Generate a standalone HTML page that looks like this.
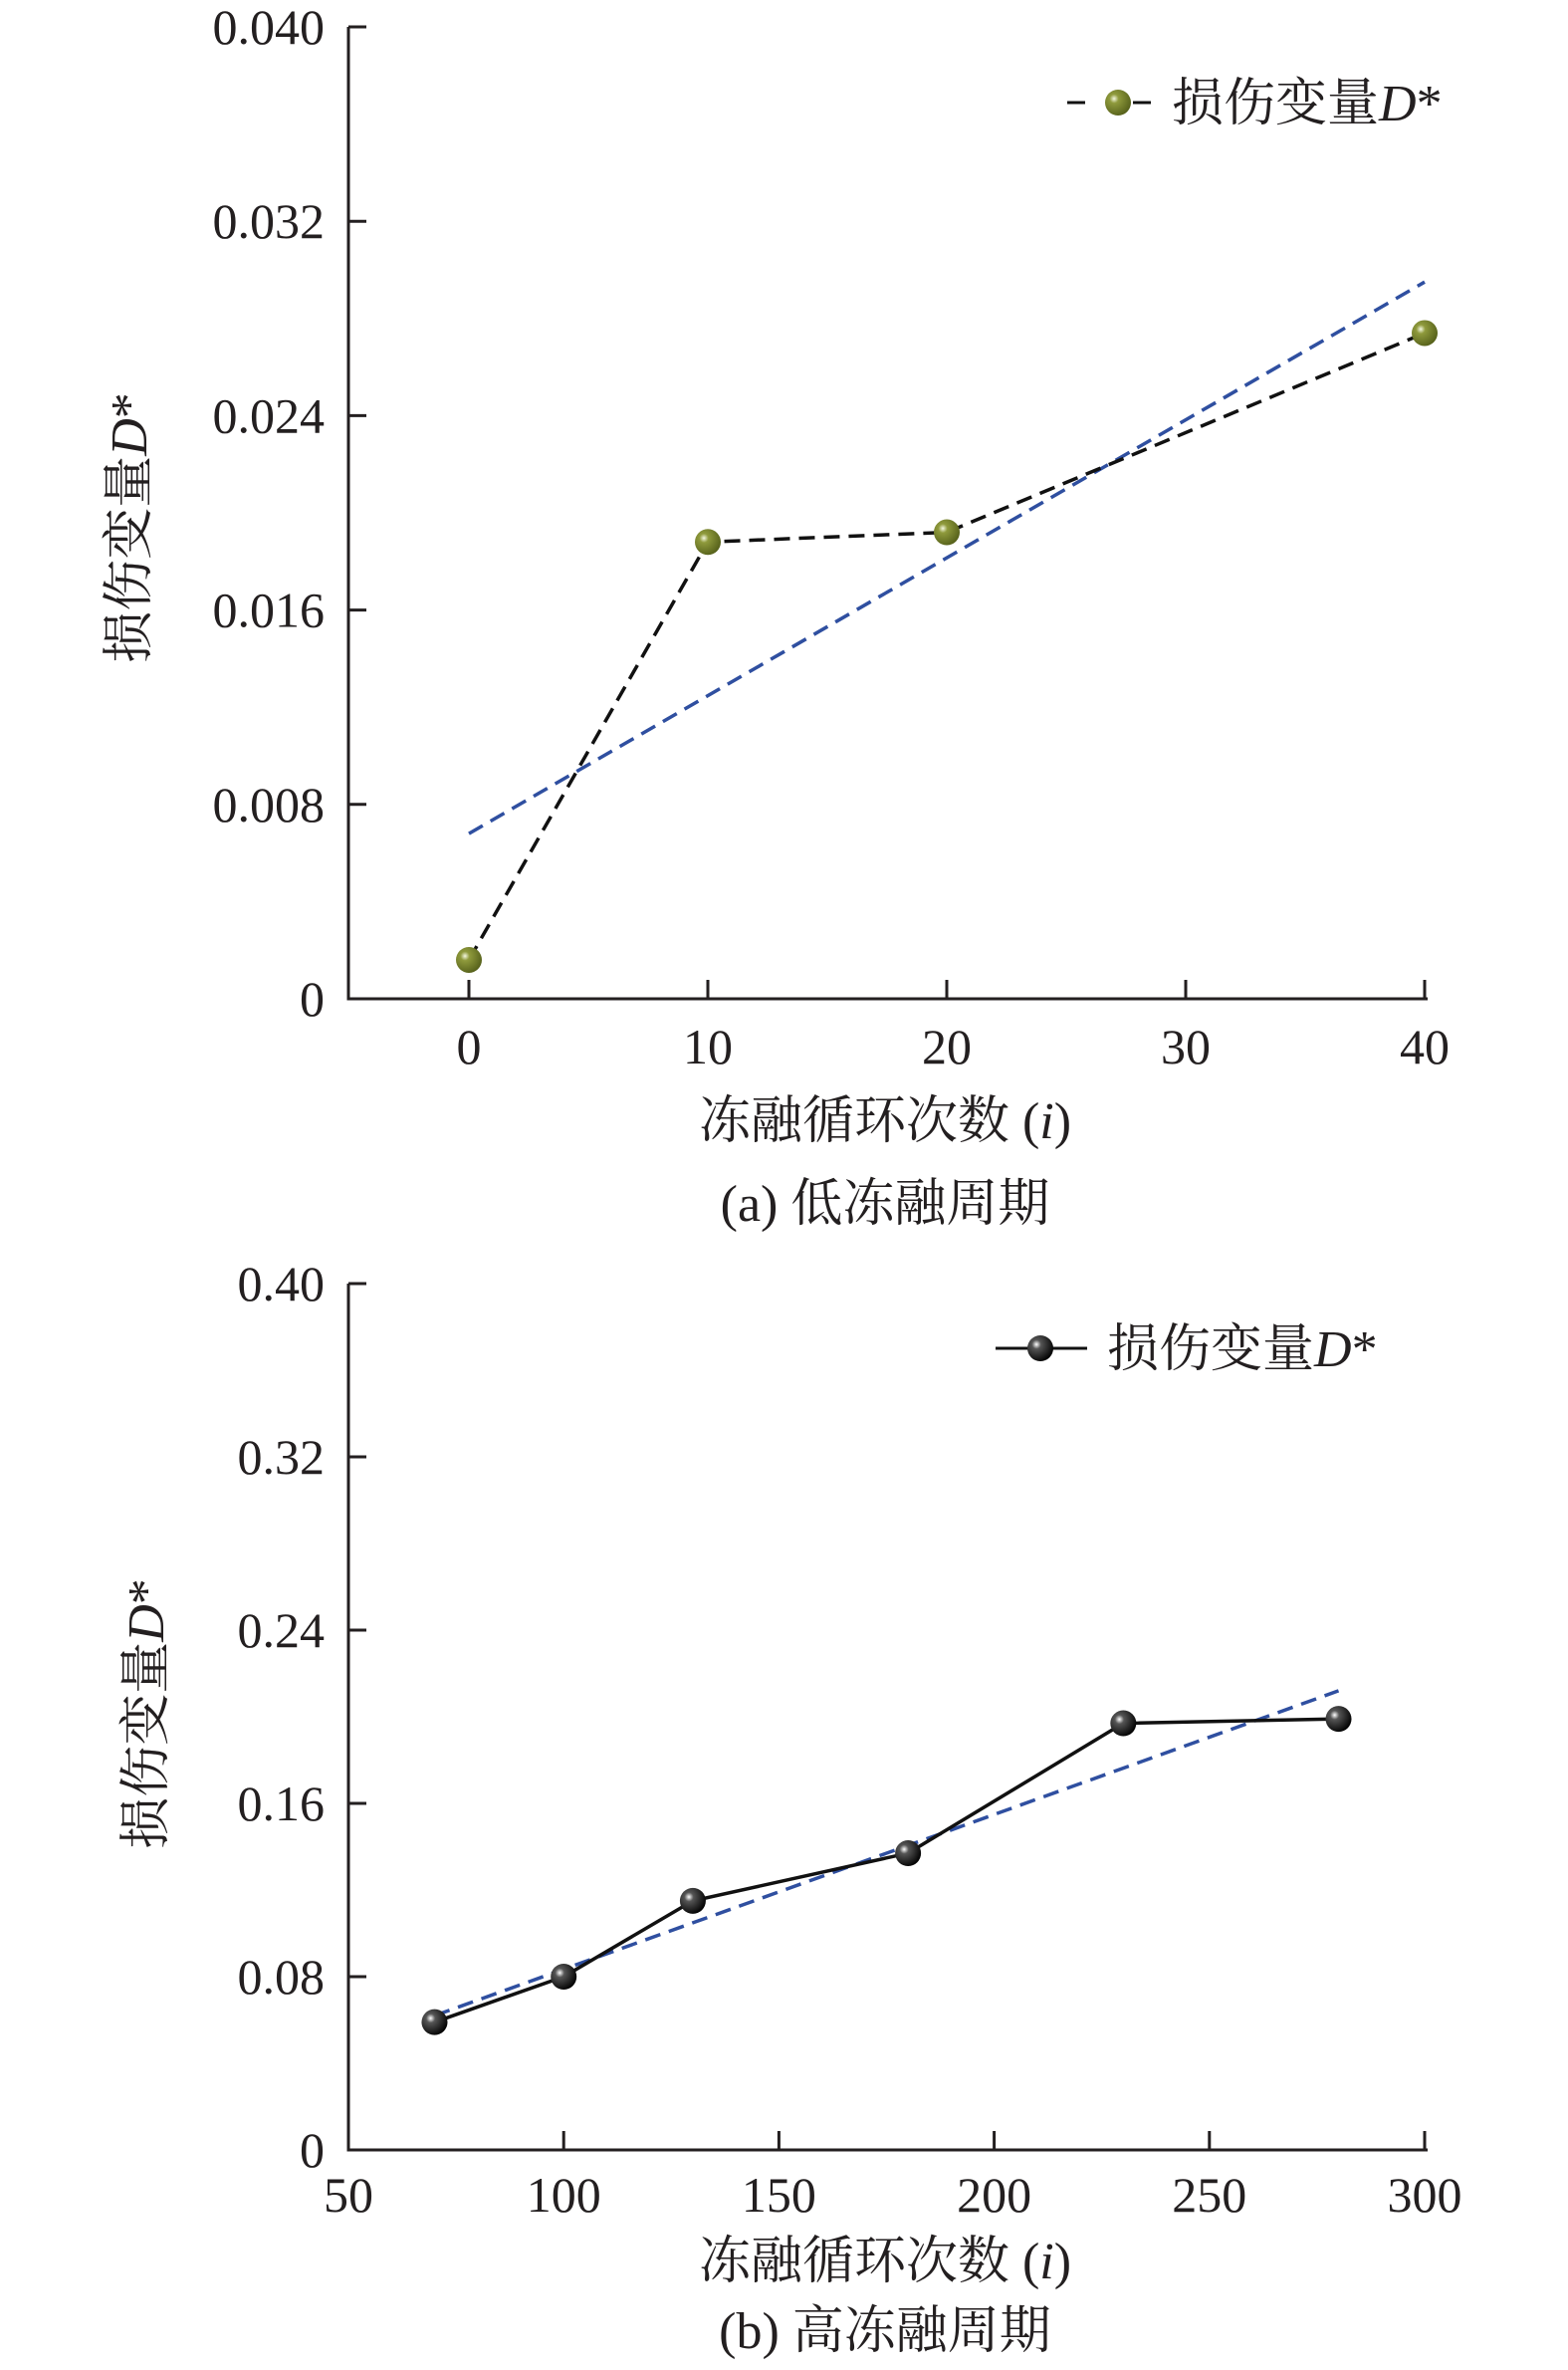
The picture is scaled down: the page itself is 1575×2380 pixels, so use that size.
<!DOCTYPE html>
<html><head><meta charset="utf-8"><style>
body{margin:0;background:#fff}
svg{display:block}
text{font-family:"Liberation Serif","Noto Serif CJK SC",serif;fill:#231f20}
</style></head><body>
<svg id="s" width="1575" height="2380" xmlns="http://www.w3.org/2000/svg">
<defs>
<radialGradient id="gg" cx="0.35" cy="0.35" r="0.7"><stop offset="0" stop-color="#f4f8e0"/><stop offset="0.25" stop-color="#8f9a3c"/><stop offset="1" stop-color="#55601a"/></radialGradient>
<radialGradient id="gb" cx="0.35" cy="0.35" r="0.7"><stop offset="0" stop-color="#ffffff"/><stop offset="0.25" stop-color="#555"/><stop offset="1" stop-color="#000"/></radialGradient>
</defs>
</svg>
<script>
const aCats=[0,10,20,40];
const aVals=[0.0016,0.0188,0.0192,0.0274];
const aFitX=[0,40];
const aFitY=[0.0068,0.0295];
const aXTicks=[0,10,20,30,40];
const aYTicks=[0,0.008,0.016,0.024,0.032,0.040];
const aYLabels=["0","0.008","0.016","0.024","0.032","0.040"];
const bCats=[70,100,130,180,230,280];
const bVals=[0.059,0.080,0.115,0.137,0.197,0.199];
const bFitX=[70,280];
const bFitY=[0.062,0.212];
const bXTicks=[50,100,150,200,250,300];
const bYTicks=[0,0.08,0.16,0.24,0.32,0.40];
const bYLabels=["0","0.08","0.16","0.24","0.32","0.40"];
const NS="http://www.w3.org/2000/svg";
const svg=document.getElementById('s');
function mk(t,a,p){const e=document.createElementNS(NS,t);for(const k in a)e.setAttribute(k,a[k]);(p||svg).appendChild(e);return e;}
function chart(o){
 const g=mk('g',{});
 
 
 const X=v=>o.x0+(v-o.xmin)/(o.xmax-o.xmin)*(o.x1-o.x0);
 const Y=v=>o.yb-(v-o.ymin)/(o.ymax-o.ymin)*(o.yb-o.yt);
 const ax=mk('path',{d:`M${o.ax},${o.yt}V${o.yb}H${o.xend}`,stroke:'#231f20','stroke-width':3,fill:'none'},g);
 
 
 o.yt_.forEach((v,i)=>{
  mk('line',{x1:o.ax,x2:o.ax+18,y1:Y(v),y2:Y(v),stroke:'#231f20','stroke-width':3},g);
  const t=mk('text',{x:o.ax-24,y:Y(v)+17,'text-anchor':'end','font-size':50},g);t.textContent=o.yl[i];
  
  
 });
 o.xt.forEach(v=>{
  mk('line',{x1:X(v),x2:X(v),y1:o.yb,y2:o.yb-19,stroke:'#231f20','stroke-width':3},g);
  const t=mk('text',{x:X(v),y:o.xly,'text-anchor':'middle','font-size':50},g);t.textContent=v;
  
  
 });
 const fit=mk('line',{x1:X(o.fx[0]),y1:Y(o.fy[0]),x2:X(o.fx[1]),y2:Y(o.fy[1]),stroke:'#2f4fa0','stroke-width':3.5,'stroke-dasharray':'16,9'},g);
 
 
 const ln=mk('polyline',{points:o.cats.map((c,i)=>X(c)+','+Y(o.vals[i])).join(' '),fill:'none',stroke:'#111','stroke-width':3.5,'stroke-dasharray':o.dash||'none'},g);
 
 
 o.cats.forEach((c,i)=>{
  const m=mk('circle',{cx:X(c),cy:Y(o.vals[i]),r:13,fill:o.grad},g);
  
  
 });
}
chart({name:'chart-a',x0:471,x1:1431,xmin:0,xmax:40,yb:1003,yt:27,ymin:0,ymax:0.04,ax:350,xend:1434,
 yt_:aYTicks,yl:aYLabels,xt:aXTicks,xly:1068,fx:aFitX,fy:aFitY,cats:aCats,vals:aVals,dash:'16,9',grad:'url(#gg)'});
chart({name:'chart-b',x0:350,x1:1431,xmin:50,xmax:300,yb:2159,yt:1289,ymin:0,ymax:0.4,ax:350,xend:1434,
 yt_:bYTicks,yl:bYLabels,xt:bXTicks,xly:2221,fx:bFitX,fy:bFitY,cats:bCats,vals:bVals,grad:'url(#gb)'});
</script>
<svg width="1575" height="2380" style="position:absolute;left:0;top:0" xmlns="http://www.w3.org/2000/svg">
<g>
<line x1="1072" y1="103" x2="1090" y2="103" stroke="#111" stroke-width="3"/>
<line x1="1138" y1="103" x2="1156" y2="103" stroke="#111" stroke-width="3"/>
<circle cx="1123" cy="103" r="13" fill="url(#gg)"/>
<text x="1177" y="121" font-size="52">损伤变量<tspan font-style="italic">D</tspan>*</text>
</g>
<g>
<line x1="1000" y1="1354" x2="1092" y2="1354" stroke="#111" stroke-width="3"/>
<circle cx="1045" cy="1354" r="13" fill="url(#gb)"/>
<text x="1112" y="1372" font-size="52">损伤变量<tspan font-style="italic">D</tspan>*</text>
</g>
<text transform="translate(147,530) rotate(-90)" text-anchor="middle" font-size="52">损伤变量<tspan font-style="italic">D</tspan>*</text>
<text transform="translate(164,1721) rotate(-90)" text-anchor="middle" font-size="52">损伤变量<tspan font-style="italic">D</tspan>*</text>
<text x="889" y="1143" text-anchor="middle" font-size="52">冻融循环次数 (<tspan font-style="italic">i</tspan>)</text>
<text x="889" y="1226" text-anchor="middle" font-size="52">(a) 低冻融周期</text>
<text x="889" y="2288" text-anchor="middle" font-size="52">冻融循环次数 (<tspan font-style="italic">i</tspan>)</text>
<text x="889" y="2358" text-anchor="middle" font-size="52">(b) 高冻融周期</text>
</svg>
</body></html>
